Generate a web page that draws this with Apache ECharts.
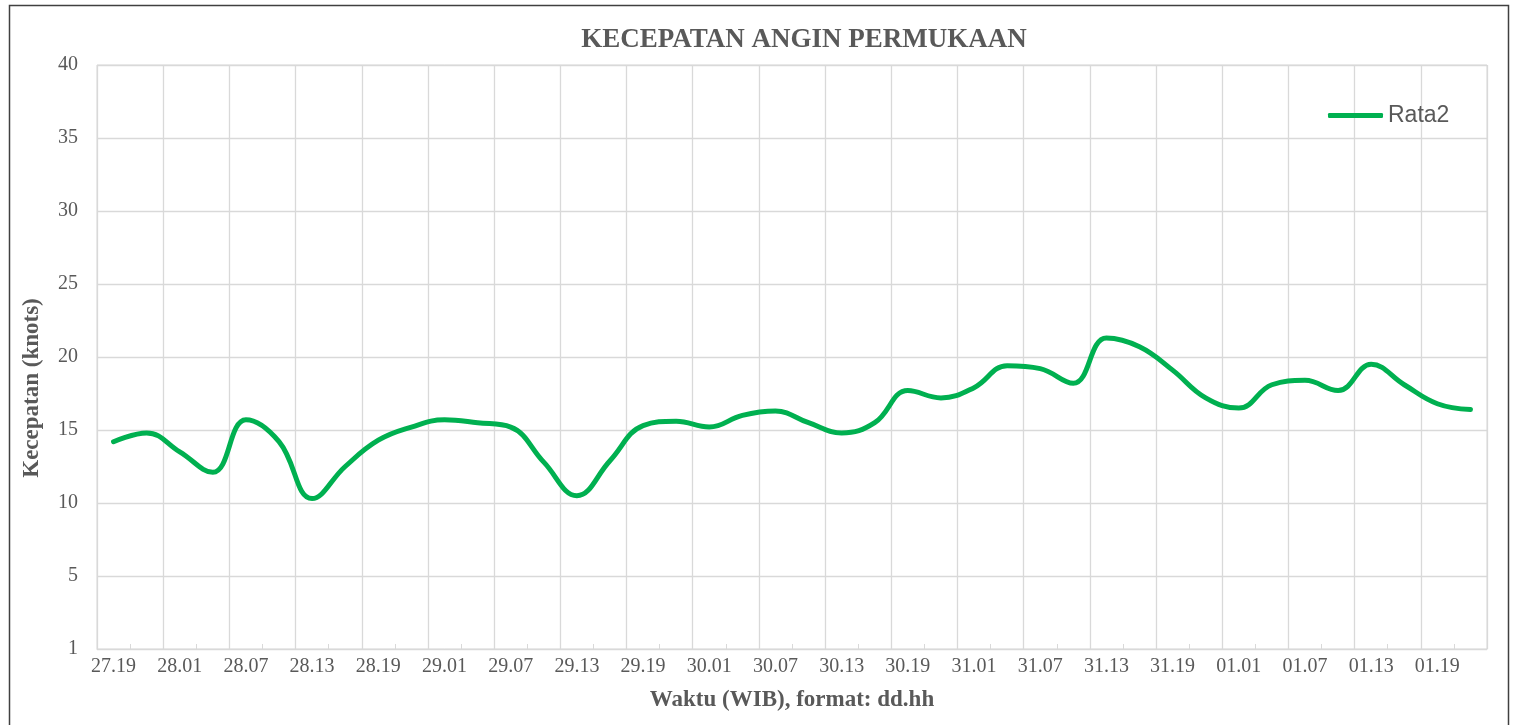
<!DOCTYPE html>
<html>
<head>
<meta charset="utf-8">
<title>Kecepatan Angin Permukaan</title>
<script src="https://cdn.jsdelivr.net/npm/echarts@6/dist/echarts.min.js"></script>
<style>
  html, body { margin: 0; padding: 0; background: #fff; }
  #chart { width: 1519px; height: 725px; }
</style>
</head>
<body>
<div id="chart"></div>
<script>
// waktu (WIB), format dd.hh - tiap 3 jam
var waktu = [
    '27.19', '27.22',
    '28.01', '28.04', '28.07', '28.10', '28.13', '28.16', '28.19', '28.22',
    '29.01', '29.04', '29.07', '29.10', '29.13', '29.16', '29.19', '29.22',
    '30.01', '30.04', '30.07', '30.10', '30.13', '30.16', '30.19', '30.22',
    '31.01', '31.04', '31.07', '31.10', '31.13', '31.16', '31.19', '31.22',
    '01.01', '01.04', '01.07', '01.10', '01.13', '01.16', '01.19', '01.22'
];

// kecepatan rata-rata (knots)
var rata2 = [
    14.2, 14.8,
    13.5, 12.1, 15.7, 14.2, 10.3, 12.5, 14.3, 15.2,
    15.7, 15.5, 15.2, 12.8, 10.5, 12.9, 15.3, 15.6,
    15.2, 16.0, 16.3, 15.5, 14.8, 15.5, 17.7, 17.2,
    17.9, 19.4, 19.2, 18.2, 21.3, 20.7, 19.1, 17.2,
    16.5, 18.1, 18.4, 17.7, 19.5, 18.1, 16.8, 16.4
];

var sumbuY = { min: 0, max: 40, step: 5 };

var abu = '#595959';
var garis = '#d9d9d9';
var hijau = '#00b050';
var serif = '"Liberation Serif", "Times New Roman", serif';

var chart = echarts.init(document.getElementById('chart'));

var option = {
    backgroundColor: '#fff',
    animation: false,
    title: {
        text: 'KECEPATAN ANGIN PERMUKAAN',
        left: 799,
        textAlign: 'center',
        top: 22,
        textStyle: {
            fontFamily: serif,
            fontSize: 27,
            fontWeight: 'bold',
            color: abu
        }
    },
    legend: {
        left: 1328,
        top: 104,
        padding: 0,
        itemWidth: 55,
        itemHeight: 5,
        itemGap: 5,
        textStyle: {
            fontFamily: '"Liberation Sans", Arial, sans-serif',
            fontSize: 23,
            color: abu
        },
        data: [{ name: 'Rata2', icon: 'roundRect' }]
    },
    grid: {
        left: 97,
        right: 32,
        top: 65,
        bottom: 76,
        show: true,
        borderColor: garis,
        borderWidth: 1
    },
    xAxis: {
        type: 'category',
        data: waktu,
        boundaryGap: true,
        name: 'Waktu (WIB), format: dd.hh',
        nameLocation: 'middle',
        nameGap: 40,
        nameTextStyle: {
            fontFamily: serif,
            fontSize: 23,
            fontWeight: 'bold',
            color: abu
        },
        axisLine: { lineStyle: { color: garis, width: 1 } },
        axisTick: {
            show: true,
            interval: 0,
            inside: true,
            length: 5,
            lineStyle: { color: garis }
        },
        axisLabel: {
            interval: 1,
            margin: 8,
            fontFamily: serif,
            fontSize: 20,
            color: abu
        },
        splitLine: {
            show: true,
            interval: 1,
            lineStyle: { color: garis, width: 1.3 }
        }
    },
    yAxis: {
        type: 'value',
        min: sumbuY.min,
        max: sumbuY.max,
        interval: sumbuY.step,
        name: 'Kecepatan (knots)',
        nameLocation: 'middle',
        nameGap: 53,
        nameRotate: 90,
        nameTextStyle: {
            fontFamily: serif,
            fontSize: 23,
            fontWeight: 'bold',
            color: abu,
            padding: [0, 62, 0, 0]
        },
        axisLine: { show: false },
        axisTick: { show: false },
        axisLabel: {
            margin: 19,
            fontFamily: serif,
            fontSize: 20,
            color: abu,
            formatter: function (v) {
                return v === 0 ? '1' : String(v); // Excel menampilkan 1 di dasar sumbu
            }
        },
        splitLine: { lineStyle: { color: garis, width: 1.3 } }
    },
    series: [{
        name: 'Rata2',
        type: 'line',
        data: rata2,
        smooth: 0.42,
        symbol: 'none',
        lineStyle: { color: hijau, width: 5, cap: 'round' },
        itemStyle: { color: hijau }
    }],
    graphic: [{
        type: 'rect',
        silent: true,
        shape: { x: 9.5, y: 5.5, width: 1499, height: 740 },
        style: { fill: null, stroke: '#404040', lineWidth: 1.5 }
    }]
};

chart.setOption(option);
</script>
</body>
</html>
